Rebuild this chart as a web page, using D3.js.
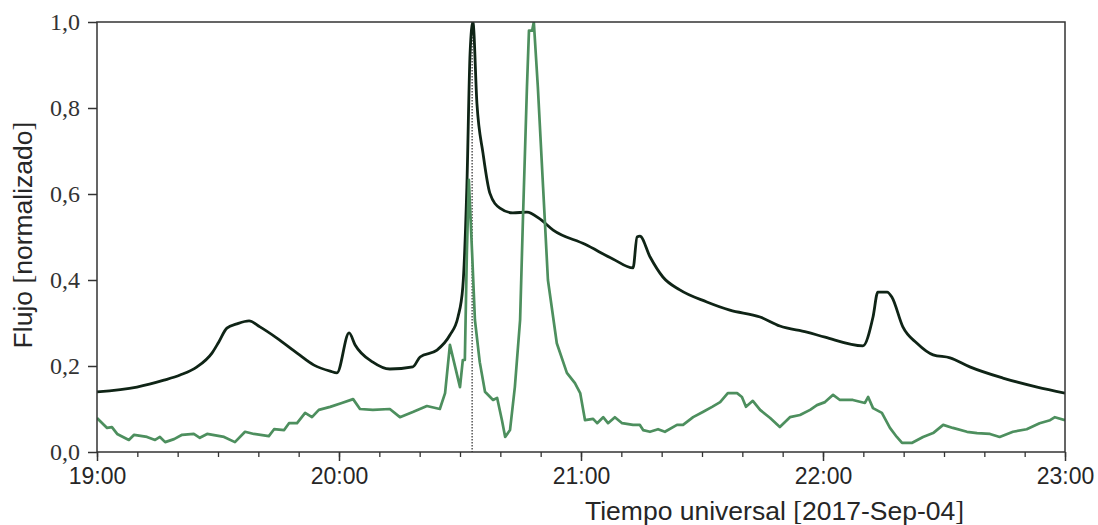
<!DOCTYPE html>
<html>
<head>
<meta charset="utf-8">
<script src="https://cdn.jsdelivr.net/npm/d3@7"></script>
<style>
  body { margin: 0; background: #fff; }
  svg { display: block; }
</style>
</head>
<body>
<div id="chart"></div>
<script>
// minutes after 19:00 UT, normalized flux
const blackMinutes = [0, 9.9, 16.6, 20.6, 24.8, 28.5, 30.2, 32.2, 34.7, 37.7, 40.4, 44.6, 49.6, 53.8, 57.8, 59.5,
  62.5, 64.0, 68.4, 72.6, 78.3, 80.1, 84.3, 87.5, 89.5, 90.7, 91.7, 92.5, 93.2, 94.2, 95.7, 97.4, 99.9,
  103.1, 106.6, 109.8, 113.1, 121.0, 127.9, 132.9, 133.9, 134.6, 137.1, 140.3, 144.5, 151.2, 156.9,
  164.4, 169.3, 176.0, 180.5, 189.9, 192.4, 193.6, 195.9, 197.1, 199.8, 203.3, 207.3, 211.5, 216.4,
  224.6, 233.1, 240.0];
const blackValues = [0.140, 0.151, 0.167, 0.179, 0.198, 0.230, 0.256, 0.288, 0.298, 0.305, 0.291, 0.265, 0.230, 0.202, 0.188, 0.184,
  0.277, 0.249, 0.209, 0.193, 0.198, 0.221, 0.237, 0.272, 0.314, 0.384, 0.616, 0.928, 1.0, 0.81, 0.695, 0.602, 0.567,
  0.556, 0.558, 0.542, 0.516, 0.483, 0.449, 0.428, 0.500, 0.502, 0.454, 0.407, 0.377, 0.349, 0.330,
  0.314, 0.293, 0.279, 0.267, 0.247, 0.314, 0.372, 0.372, 0.360, 0.291, 0.253, 0.226, 0.219, 0.198,
  0.172, 0.151, 0.137];

const greenMinutes = [0, 2.5, 3.7, 5.0, 7.9, 9.2, 12.4, 14.4, 15.6, 16.9, 19.1, 21.1, 24.0, 25.5, 27.3, 31.5, 34.2,
  36.7, 38.9, 42.6, 43.9, 46.4, 47.6, 49.6, 51.6, 53.3, 55.0, 57.8, 60.7, 63.5, 65.2, 68.4, 72.6, 75.1,
  78.3, 81.8, 85.0, 86.3, 87.5, 88.8, 90.0, 90.7, 91.2, 91.7, 92.2, 93.0, 93.7, 94.9, 96.2, 98.2, 99.2,
  100.4, 101.2, 102.4, 103.6, 104.9, 105.6, 106.6, 107.1, 107.9, 108.3, 109.3, 110.6, 111.8, 114.0,
  116.5, 118.5, 119.8, 121.0, 123.0, 124.0, 125.5, 126.7, 128.4, 130.2, 132.9, 134.6, 135.4, 137.1,
  139.1, 140.8, 143.8, 145.3, 147.8, 150.2, 152.5, 154.5, 156.4, 158.7, 159.9, 160.9, 162.6, 164.4,
  166.9, 169.3, 171.8, 174.3, 176.8, 178.5, 180.5, 182.5, 184.2, 187.4, 190.4, 191.2, 192.4, 194.6,
  196.6, 198.3, 199.6, 202.0, 204.8, 207.3, 209.8, 212.2, 215.7, 218.2, 221.4, 223.8, 227.1, 230.5,
  233.7, 236.3, 237.5, 240.0];
const greenValues = [0.079, 0.056, 0.058, 0.042, 0.028, 0.040, 0.035, 0.028, 0.035, 0.023, 0.030, 0.040, 0.042, 0.033, 0.042, 0.035, 0.023,
  0.047, 0.042, 0.037, 0.053, 0.051, 0.067, 0.067, 0.091, 0.081, 0.098, 0.105, 0.114, 0.123, 0.100, 0.098, 0.100, 0.081,
  0.093, 0.107, 0.100, 0.137, 0.249, 0.198, 0.151, 0.214, 0.214, 0.463, 0.633, 0.463, 0.307, 0.209, 0.140, 0.121, 0.126,
  0.074, 0.035, 0.051, 0.151, 0.307, 0.540, 0.849, 0.980, 0.980, 1.0, 0.849, 0.616, 0.400, 0.253,
  0.184, 0.160, 0.137, 0.074, 0.077, 0.067, 0.081, 0.067, 0.081, 0.067, 0.063, 0.063, 0.051, 0.047,
  0.053, 0.047, 0.063, 0.063, 0.081, 0.093, 0.105, 0.116, 0.137, 0.137, 0.128, 0.105, 0.119, 0.098,
  0.079, 0.058, 0.081, 0.086, 0.098, 0.109, 0.116, 0.133, 0.121, 0.121, 0.114, 0.128, 0.102, 0.091,
  0.056, 0.035, 0.021, 0.021, 0.035, 0.044, 0.063, 0.056, 0.047, 0.044, 0.042, 0.035, 0.047, 0.053,
  0.067, 0.074, 0.081, 0.074];

const yTicks = [0, 0.2, 0.4, 0.6, 0.8, 1.0];
const markerMinute = 93.0; // dotted line, peak time

const t0 = Date.UTC(2017, 8, 4, 19, 0);
const toDate = m => new Date(t0 + m * 60000);

const margin = { top: 22, right: 33, bottom: 73, left: 97 };
const width = 1098 - margin.left - margin.right;
const height = 525 - margin.top - margin.bottom;

const svg = d3.select("#chart")
  .append("svg")
  .attr("width", 1098)
  .attr("height", 525)
  .append("g")
  .attr("transform", `translate(${margin.left},${margin.top})`);

const x = d3.scaleUtc()
  .domain([toDate(0), toDate(240)])
  .range([0, width]);

const y = d3.scaleLinear()
  .domain([0, 1])
  .range([height, 0]);

svg.append("clipPath")
  .attr("id", "clip")
  .append("rect")
  .attr("width", width)
  .attr("height", height);

const line = d3.line()
  .x(d => x(toDate(d[0])))
  .y(d => y(d[1]));

const smoothLine = d3.line()
  .x(d => x(toDate(d[0])))
  .y(d => y(d[1]))
  .curve(d3.curveMonotoneX);

const blackData = blackMinutes.map((m, i) => [m, blackValues[i]]);
const greenData = greenMinutes.map((m, i) => [m, greenValues[i]]);

// dotted marker
svg.append("line")
  .attr("x1", x(toDate(markerMinute)))
  .attr("x2", x(toDate(markerMinute)))
  .attr("y1", 0)
  .attr("y2", height)
  .attr("stroke", "#000")
  .attr("stroke-width", 1)
  .attr("stroke-dasharray", "1.5,1.5");

svg.append("path")
  .datum(blackData)
  .attr("clip-path", "url(#clip)")
  .attr("fill", "none")
  .attr("stroke", "#0f2416")
  .attr("stroke-width", 2.8)
  .attr("stroke-linejoin", "round")
  .attr("d", smoothLine);

svg.append("path")
  .datum(greenData)
  .attr("clip-path", "url(#clip)")
  .attr("fill", "none")
  .attr("stroke", "#4d8f5e")
  .attr("stroke-width", 2.7)
  .attr("stroke-linejoin", "round")
  .attr("d", line);

// frame
svg.append("rect")
  .attr("width", width)
  .attr("height", height)
  .attr("fill", "none")
  .attr("stroke", "#333")
  .attr("stroke-width", 1.5);

// x axis: minor ticks every 10 min, major every hour
svg.append("g")
  .attr("transform", `translate(0,${height})`)
  .call(d3.axisBottom(x)
    .ticks(d3.utcMinute.every(10))
    .tickSize(5)
    .tickFormat(""))
  .call(g => g.select(".domain").remove())
  .selectAll(".tick line")
  .attr("stroke", "#333")
  .attr("stroke-width", 1.3);

const xMajor = svg.append("g")
  .attr("transform", `translate(0,${height})`)
  .call(d3.axisBottom(x)
    .ticks(d3.utcHour.every(1))
    .tickSize(9)
    .tickPadding(7)
    .tickFormat(d3.utcFormat("%H:%M")));
xMajor.select(".domain").remove();
xMajor.selectAll(".tick line").attr("stroke", "#333").attr("stroke-width", 1.5);
xMajor.selectAll(".tick text")
  .style("font-family", "'Liberation Sans', Arial, sans-serif")
  .style("font-size", "23px")
  .attr("fill", "#262626");

const yAxis = svg.append("g")
  .call(d3.axisLeft(y)
    .tickValues(yTicks)
    .tickSize(9)
    .tickPadding(8)
    .tickFormat(d => d3.format(".1f")(d).replace(".", ",")));
yAxis.select(".domain").remove();
yAxis.selectAll(".tick line").attr("stroke", "#333").attr("stroke-width", 1.5);
yAxis.selectAll(".tick text")
  .style("font-family", "'Liberation Serif', 'DejaVu Serif', serif")
  .style("font-size", "24px")
  .attr("fill", "#333");

// axis labels
const yLabel = svg.append("text")
  .attr("transform", `translate(${-margin.left + 32},${height / 2 - 2}) rotate(-90)`)
  .attr("text-anchor", "middle")
  .style("font-family", "'Liberation Sans', Arial, sans-serif")
  .style("font-size", "26.5px")
  .attr("fill", "#262626");
yLabel.append("tspan").text("Flujo ");
yLabel.append("tspan").style("font-family", "'Liberation Serif', serif").text("[");
yLabel.append("tspan").text("normalizado");
yLabel.append("tspan").style("font-family", "'Liberation Serif', serif").text("]");

const xLabel = svg.append("text")
  .attr("x", 585 - margin.left)
  .attr("y", 520 - margin.top)
  .attr("text-anchor", "start")
  .style("font-family", "'Liberation Sans', Arial, sans-serif")
  .style("font-size", "26.5px")
  .attr("fill", "#262626");
xLabel.append("tspan").text("Tiempo universal ");
xLabel.append("tspan").style("font-family", "'Liberation Serif', serif").text("[");
xLabel.append("tspan").text("2017-Sep-04");
xLabel.append("tspan").style("font-family", "'Liberation Serif', serif").text("]");
</script>
</body>
</html>
